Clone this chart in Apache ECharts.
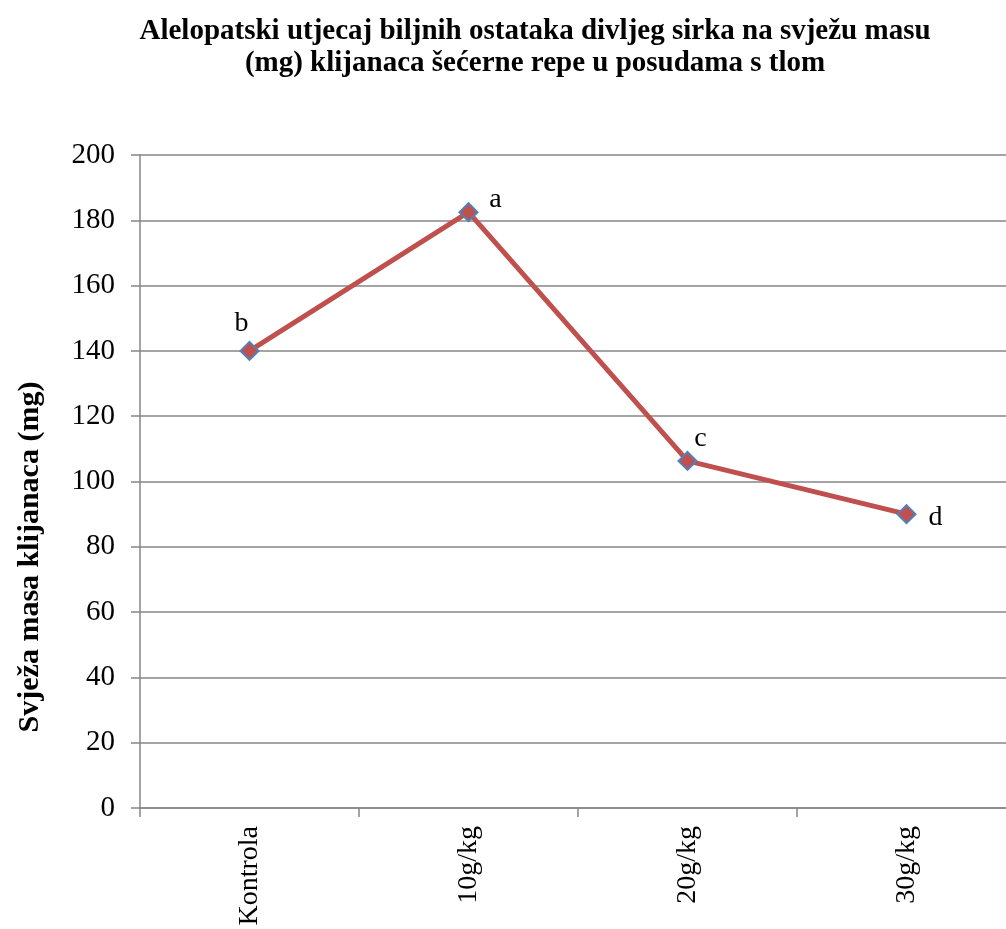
<!DOCTYPE html>
<html>
<head>
<meta charset="utf-8">
<script src="https://cdn.jsdelivr.net/npm/echarts@6/dist/echarts.min.js"></script>
<style>
  html, body { margin: 0; padding: 0; background: #fff; overflow: hidden; }
  #chart { width: 1016px; height: 929px; }
</style>
</head>
<body>
<div id="chart"></div>
<script>
// svježa masa klijanaca po tretmanu
var categories = ['Kontrola', '10g/kg', '20g/kg', '30g/kg'];
var masa = [140, 182.5, 106.3, 90];
var slova = ['b', 'a', 'c', 'd'];
var yTicks = [0, 20, 40, 60, 80, 100, 120, 140, 160, 180, 200];

// položaj slova uz svaku točku
var labelOffsets = [[-8, 2], [27, 17], [13, 7], [29, 32]];

var serif = '"Liberation Serif", "DejaVu Serif", serif';
// div je malo širi od prozora: zadnja kategorija u originalu je odrezana desno
var myChart = echarts.init(document.getElementById('chart'));

var seriesData = masa.map(function (v, i) {
    return {
        value: v,
        label: {
            show: true,
            formatter: slova[i],
            position: 'top',
            offset: labelOffsets[i],
            fontFamily: serif,
            fontSize: 28,
            color: '#000'
        }
    };
});

var option = {
    backgroundColor: '#fff',
    animation: false,
    title: {
        text: 'Alelopatski utjecaj biljnih ostataka divljeg sirka na svježu masu\n(mg) klijanaca šećerne repe u posudama s tlom',
        left: 530,
        top: 11,
        textAlign: 'center',
        textStyle: {
            fontFamily: serif,
            fontWeight: 'bold',
            fontSize: 29,
            lineHeight: 32,
            color: '#000'
        }
    },
    grid: {
        left: 140,
        right: 0,
        top: 155,
        bottom: 121,
        containLabel: false
    },
    xAxis: {
        type: 'category',
        data: categories,
        boundaryGap: true,
        axisLine: { lineStyle: { color: '#868686', width: 1.5 } },
        axisTick: { show: true, length: 9, lineStyle: { color: '#868686', width: 1.5 } },
        axisLabel: {
            rotate: 90,
            margin: 18,
            fontFamily: serif,
            fontSize: 28,
            color: '#000'
        }
    },
    yAxis: {
        type: 'value',
        min: yTicks[0],
        max: yTicks[yTicks.length - 1],
        interval: yTicks[1] - yTicks[0],
        axisLine: { show: true, lineStyle: { color: '#868686', width: 1.5 } },
        axisTick: { show: true, length: 9, lineStyle: { color: '#868686', width: 1.5 } },
        splitLine: { lineStyle: { color: '#868686', width: 1.5 } },
        axisLabel: {
            margin: 25,
            fontFamily: serif,
            fontSize: 29,
            color: '#000'
        }
    },
    graphic: [{
        type: 'text',
        x: 30,
        y: 557,
        rotation: Math.PI / 2,
        style: {
            text: 'Svježa masa klijanaca (mg)',
            fontFamily: serif,
            fontWeight: 'bold',
            fontSize: 30,
            fill: '#000',
            align: 'center',
            verticalAlign: 'middle'
        }
    }],
    series: [{
        type: 'line',
        data: seriesData,
        symbol: 'diamond',
        symbolSize: 18,
        lineStyle: { color: '#C0504D', width: 5 },
        itemStyle: { color: '#C0504D', borderColor: '#4F81BD', borderWidth: 2 }
    }]
};

myChart.setOption(option);
</script>
</body>
</html>
